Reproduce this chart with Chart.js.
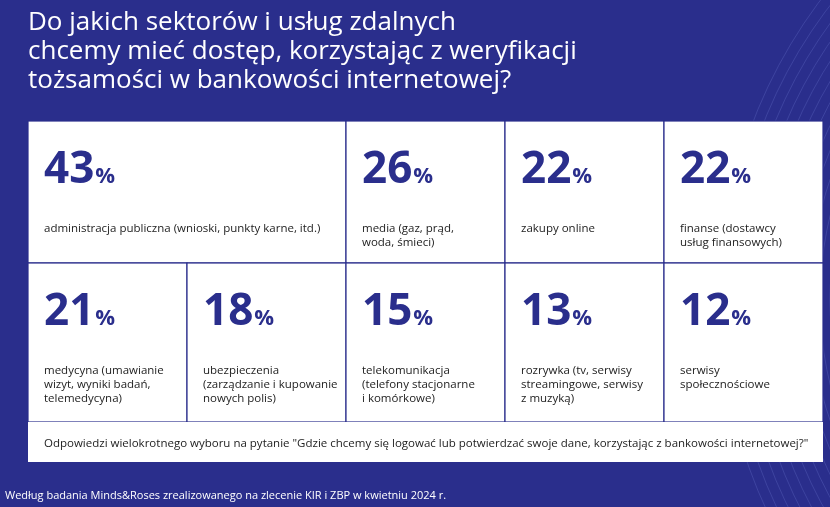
<!DOCTYPE html>
<html><head><meta charset="utf-8">
<script src="https://cdn.jsdelivr.net/npm/chart.js@4"></script>
<style>html,body{margin:0;padding:0;background:#2a2e8c;}#w{position:relative;width:830px;height:507px;}</style>
</head><body><div id="w"><canvas id="c"></canvas></div>
<script>
const title = ["Do jakich sektorów i usług zdalnych","chcemy mieć dostęp, korzystając z weryfikacji","tożsamości w bankowości internetowej?"];
const values = [43,26,22,22,21,18,15,13,12];
const labels = [
 ["administracja publiczna (wnioski, punkty karne, itd.)"],
 ["media (gaz, prąd,","woda, śmieci)"],
 ["zakupy online"],
 ["finanse (dostawcy","usług finansowych)"],
 ["medycyna (umawianie","wizyt, wyniki badań,","telemedycyna)"],
 ["ubezpieczenia","(zarządzanie i kupowanie","nowych polis)"],
 ["telekomunikacja","(telefony stacjonarne","i komórkowe)"],
 ["rozrywka (tv, serwisy","streamingowe, serwisy","z muzyką)"],
 ["serwisy","społecznościowe"]
];
const note = "Odpowiedzi wielokrotnego wyboru na pytanie \"Gdzie chcemy się logować lub potwierdzać swoje dane, korzystając z bankowości internetowej?\"";
const source = "Według badania Minds&Roses zrealizowanego na zlecenie KIR i ZBP w kwietniu 2024 r.";
const spans = [2,1,1,1,1,1,1,1,1];
const rowEdges = [0,142,301,341];

const navy = "#2a2e8c";
const tiles = {
 id:'tiles',
 beforeDraw(ch){
  const c=ch.ctx, xs=ch.scales.x, ys=ch.scales.y;
  c.save();
  c.fillStyle=navy; c.fillRect(0,0,ch.width,ch.height);
  c.strokeStyle="rgba(120,130,220,0.25)"; c.lineWidth=1;
  for(let i=0;i<18;i++){c.beginPath();c.arc(1150+i*4,300,260+i*14,Math.PI*0.75,Math.PI*1.35);c.stroke();}
  c.fillStyle="#fff"; c.font="26px 'Open Sans', sans-serif"; c.textBaseline="alphabetic";
  title.forEach((t,i)=>c.fillText(t,28,30+i*29));
  c.font="11px 'Open Sans', sans-serif";
  c.fillText(source,5,499);
  let col=0,row=0;
  values.forEach((v,i)=>{
   const x0=xs.getPixelForValue(col), x1=xs.getPixelForValue(col+spans[i]);
   const y0=ys.getPixelForValue(rowEdges[row]), y1=ys.getPixelForValue(rowEdges[row+1]);
   c.fillStyle="#fff"; c.fillRect(x0,y0,x1-x0,y1-y0);
   c.strokeStyle=navy; c.lineWidth=1.2; c.strokeRect(x0,y0,x1-x0,y1-y0);
   c.fillStyle=navy; c.font="bold 44px 'Open Sans', sans-serif";
   const s=String(v); c.fillText(s,x0+16,y0+62);
   const w=c.measureText(s).width;
   c.font="bold 22px 'Open Sans', sans-serif"; c.fillText("%",x0+17+w,y0+62);
   c.fillStyle="#222"; c.font="11.5px 'Open Sans', sans-serif";
   labels[i].forEach((l,k)=>c.fillText(l,x0+16,y0+111+k*14));
   col+=spans[i]; if(col>=5){col=0;row++;}
  });
  const x0=xs.getPixelForValue(0), x1=xs.getPixelForValue(5);
  const y0=ys.getPixelForValue(rowEdges[2]), y1=ys.getPixelForValue(rowEdges[3]);
  c.fillStyle="#fff"; c.fillRect(x0,y0,x1-x0,y1-y0);
  c.fillStyle="#222"; c.font="11.5px 'Open Sans', sans-serif";
  c.fillText(note,x0+16,y0+25);
  c.restore();
 }
};
new Chart(document.getElementById('c'),{
 type:'scatter',
 data:{datasets:[{data:[]}]},
 options:{responsive:true,maintainAspectRatio:false,animation:false,
  layout:{padding:{left:28,right:7,top:121,bottom:45}},
  plugins:{legend:{display:false},tooltip:{enabled:false}},
  scales:{x:{type:'linear',min:0,max:5,display:false},
          y:{type:'linear',min:0,max:341,reverse:true,display:false}}},
 plugins:[tiles]
});
</script></div></body></html>
